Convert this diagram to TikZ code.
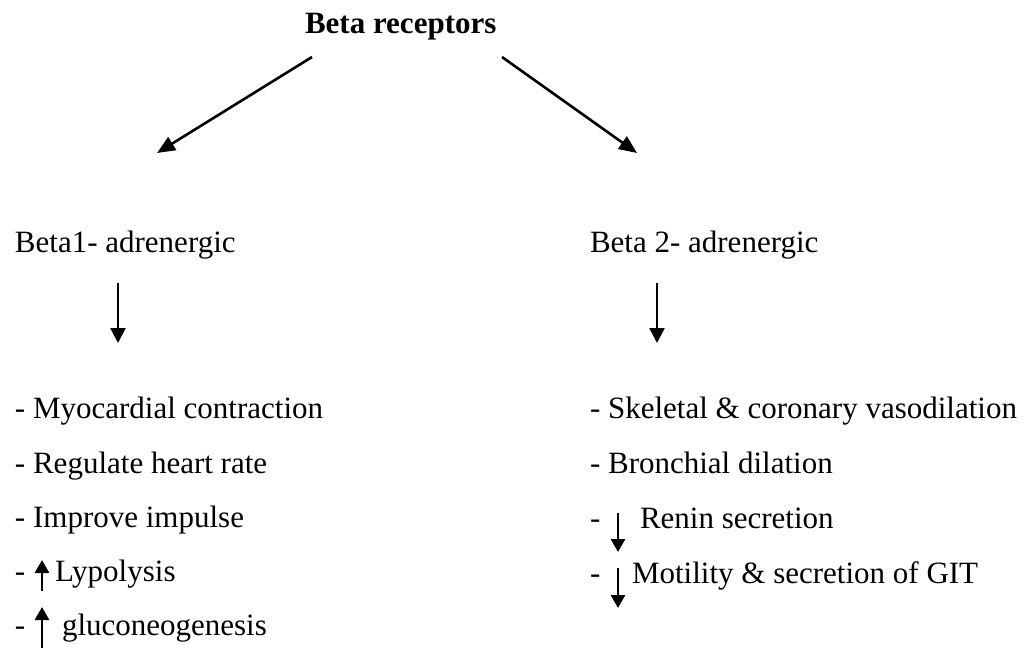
\documentclass[tikz,border=0pt]{standalone}
\usepackage{fontspec}
\setmainfont{Liberation Serif}
\usetikzlibrary{arrows.meta}
\tikzset{
  txt/.style={anchor=base west, inner sep=0pt, outer sep=0pt, font=\fontsize{31}{37}\selectfont},
  arr/.style={line width=2.6pt, -{Triangle[length=18pt,width=15pt]}},
  sarr/.style={line width=2.6pt, -{Triangle[length=15pt,width=15pt]}},
  tarr/.style={line width=2.6pt, -{Triangle[length=13pt,width=14pt]}}
}
\begin{document}
\begin{tikzpicture}[x=1pt,y=-1pt]
\useasboundingbox (0,0) rectangle (1034,648);
% title
\node[txt, font=\fontsize{31}{37}\selectfont\bfseries] (title) at (305,33) {Beta receptors};
\coordinate (ls) at (312,57);
\coordinate (lt) at (157,153);
\coordinate (rs) at (502,57);
\coordinate (rt) at (637,153);
\draw[arr] (ls) -- (lt);
\draw[arr] (rs) -- (rt);
% column headers
\node[txt] (b1) at (15,252) {Beta1- adrenergic};
\node[txt] (b2) at (590,252) {Beta 2- adrenergic};
\coordinate (d1s) at (118,283);
\coordinate (d1t) at (118,343);
\coordinate (d2s) at (657,283);
\coordinate (d2t) at (657,343);
\draw[sarr] (d1s) -- (d1t);
\draw[sarr] (d2s) -- (d2t);
% left list
\node[txt] (l1) at (15,418) {- Myocardial contraction};
\node[txt] (l2) at (15,473) {- Regulate heart rate};
\node[txt] (l3) at (15,527) {- Improve impulse};
\node[txt] (l4d) at (15,581) {-};
\node[txt] (l4) at (55,581) {Lypolysis};
\node[txt] (l5d) at (15,635) {-};
\node[txt] (l5) at (62,635) {gluconeogenesis};
\coordinate (u1s) at (42,591);
\coordinate (u1t) at (42,560);
\coordinate (u2s) at (42,648);
\coordinate (u2t) at (42,607);
\draw[tarr] (u1s) -- (u1t);
\draw[tarr] (u2s) -- (u2t);
% right list
\node[txt] (r1) at (590,418) {- Skeletal \& coronary vasodilation};
\node[txt] (r2) at (590,473) {- Bronchial dilation};
\node[txt] (r3d) at (590,528) {-};
\node[txt] (r3) at (640,528) {Renin secretion};
\node[txt] (r4d) at (590,583) {-};
\node[txt] (r4) at (632,583) {Motility \& secretion of GIT};
\coordinate (v1s) at (618,513);
\coordinate (v1t) at (618,552);
\coordinate (v2s) at (618,568);
\coordinate (v2t) at (618,608);
\draw[tarr] (v1s) -- (v1t);
\draw[tarr] (v2s) -- (v2t);
\end{tikzpicture}
\end{document}
